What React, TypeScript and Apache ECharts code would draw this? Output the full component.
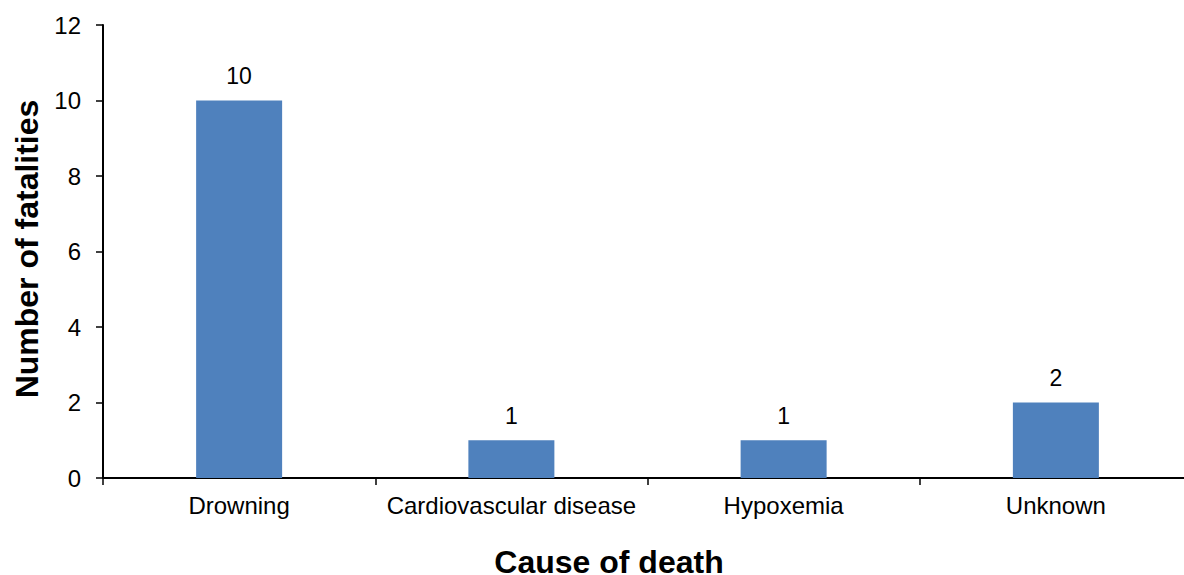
import React, { useEffect, useRef } from "react";
import * as echarts from "echarts";

const categories = ["Drowning", "Cardiovascular disease", "Hypoxemia", "Unknown"];
const fatalities = [10, 1, 1, 2];
const yTitle = "Number of fatalities";
const xTitle = "Cause of death";

export default function App() {
  const ref = useRef<HTMLDivElement>(null);
  useEffect(() => {
    const chart = echarts.init(ref.current!, null, { renderer: "svg" });
    const font = "'Liberation Sans', Arial, sans-serif";
    chart.setOption({
      animation: false,
      backgroundColor: "#ffffff",
      grid: {
        left: 103,
        top: 25,
        width: 1089,
        height: 453,
        containLabel: false,
        outerBoundsMode: "none",
      },
      xAxis: {
        type: "category",
        data: categories,
        boundaryGap: true,
        axisLine: { lineStyle: { color: "#000", width: 2 } },
        axisTick: { show: true, interval: 0, length: 7, lineStyle: { color: "#000", width: 1.5 } },
        axisLabel: {
          color: "#000",
          fontSize: 24,
          fontFamily: font,
          margin: 15,
          interval: 0,
          hideOverlap: false,
        },
      },
      yAxis: {
        type: "value",
        min: 0,
        max: 12,
        interval: 2,
        splitLine: { show: false },
        axisLine: { show: true, lineStyle: { color: "#000", width: 2 } },
        axisTick: { show: true, length: 7, lineStyle: { color: "#000", width: 1.5 } },
        axisLabel: { color: "#000", fontSize: 24, fontFamily: font, margin: 22 },
      },
      series: [
        {
          type: "bar",
          data: fatalities,
          barWidth: 86,
          itemStyle: { color: "#4F81BD" },
          label: {
            show: true,
            position: "top",
            distance: 13,
            color: "#000",
            fontSize: 23,
            fontFamily: font,
          },
        },
      ],
      graphic: [
        {
          type: "text",
          x: 27,
          y: 249,
          rotation: Math.PI / 2,
          style: {
            text: yTitle,
            font: `bold 32px ${font}`,
            fill: "#000",
            align: "center",
            verticalAlign: "middle",
          },
        },
        {
          type: "text",
          x: 609,
          y: 562,
          style: {
            text: xTitle,
            font: `bold 32px ${font}`,
            fill: "#000",
            align: "center",
            verticalAlign: "middle",
          },
        },
      ],
    });
    return () => chart.dispose();
  }, []);
  return (
    <div
      ref={ref}
      style={{ position: "fixed", left: 0, top: 0, width: 1184, height: 575, background: "#fff" }}
    />
  );
}
